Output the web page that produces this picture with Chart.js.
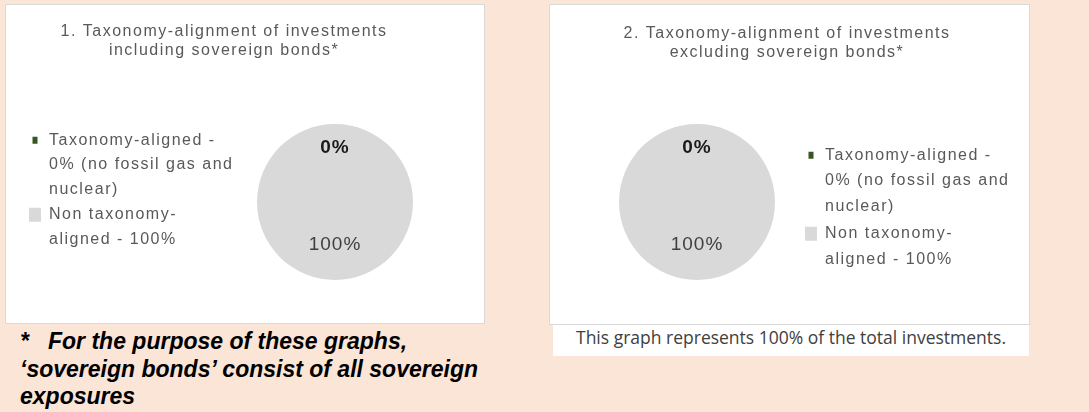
<!DOCTYPE html>
<html>
<head>
<meta charset="utf-8">
<script src="https://cdn.jsdelivr.net/npm/chart.js@4.4.1/dist/chart.umd.min.js"></script>
<style>
  body { margin: 0; width: 1089px; height: 412px; overflow: hidden; position: relative; background: #fbe5d6; font-family: "Liberation Sans", Arial, sans-serif; }
  .panel { position: absolute; background: #fff; border: 1px solid #d9d9d9; box-sizing: border-box; }
  #p1 { left: 5px; top: 4px; width: 480px; height: 320px; }
  #p2 { left: 549px; top: 4px; width: 481px; height: 321px; }
  canvas { position: absolute; }
  #c1 { left: 5px; top: 4px; }
  #c2 { left: 549px; top: 4px; }
  .note { position: absolute; left: 20px; top: 328px; font-size: 23px; line-height: 27.5px; font-weight: bold; font-style: italic; color: #000; white-space: nowrap; }
  .note .star { display: inline-block; width: 28px; }
  .caption { position: absolute; left: 553px; top: 325px; width: 476px; height: 31px; background: #fff; color: #404040; font-family: "Open Sans", sans-serif; font-size: 17.5px; line-height: 25px; text-align: center; }
</style>
</head>
<body>
<div class="panel" id="p1"></div>
<div class="panel" id="p2"></div>
<canvas id="c1" width="480" height="320"></canvas>
<canvas id="c2" width="481" height="321"></canvas>
<div class="note"><span class="star">*</span>For the purpose of these graphs,<br>‘sovereign bonds’ consist of all sovereign<br>exposures</div>
<div class="caption">This graph represents 100% of the total investments.</div>

<script>
// categories and values
const categories = ['Taxonomy-aligned - 0% (no fossil gas and nuclear)', 'Non taxonomy-aligned - 100%'];
const legendLines = [
  ['Taxonomy-aligned -', '0% (no fossil gas and', 'nuclear)'],
  ['Non taxonomy-', 'aligned - 100%']
];
const includingSovereign = [0, 100];
const excludingSovereign = [0, 100];
const sliceColors = ['#375623', '#d9d9d9'];
const title1 = ['1. Taxonomy-alignment of investments', 'including sovereign bonds*'];
const title2 = ['2. Taxonomy-alignment of investments', 'excluding sovereign bonds*'];

const textGrey = '#595959';
const fontFamily = '"Liberation Sans", Arial, sans-serif';

// spaced out letters like the original export
const spacing = {
  id: 'spacing',
  beforeUpdate(chart) { chart.ctx.letterSpacing = '1.5px'; },
  beforeDraw(chart) { chart.ctx.letterSpacing = '1.5px'; }
};

// fixed legend width + vertical nudge, legend text may run past its box
const legendBox = {
  id: 'legendBox',
  beforeLayout(chart, args, opts) {
    const lg = chart.legend;
    if (lg && !lg.fixedFit) {
      const fit = lg.fit;
      lg.fit = function () { fit.call(this); this.width = opts.width; };
      lg.fixedFit = true;
    }
  },
  afterLayout(chart, args, opts) {
    const lg = chart.legend;
    lg.top += opts.shift;
    lg.bottom += opts.shift;
    lg.right = chart.width;
  }
};

// percent labels inside the pie
const sliceLabels = {
  id: 'sliceLabels',
  afterDatasetsDraw(chart, args, opts) {
    const ctx = chart.ctx;
    const ds = chart.data.datasets[0];
    chart.getDatasetMeta(0).data.forEach((arc, i) => {
      const p = arc.getProps(['x', 'y', 'startAngle', 'endAngle', 'outerRadius'], true);
      const mid = (p.startAngle + p.endAngle) / 2;
      const r = p.outerRadius * opts.radius[i];
      ctx.save();
      ctx.letterSpacing = '1px';
      ctx.font = opts.fonts[i];
      ctx.fillStyle = opts.colors[i];
      ctx.textAlign = 'center';
      ctx.textBaseline = 'middle';
      ctx.fillText(ds.data[i] + '%', p.x + Math.cos(mid) * r, p.y + Math.sin(mid) * r);
      ctx.restore();
    });
  }
};

function makeChart(id, values, title, legendPos, pad, legend, titleTop) {
  new Chart(document.getElementById(id), {
    type: 'pie',
    data: {
      labels: categories,
      datasets: [{
        data: values,
        backgroundColor: sliceColors,
        borderWidth: 0
      }]
    },
    options: {
      responsive: false,
      animation: false,
      devicePixelRatio: 1,
      layout: { padding: pad },
      plugins: {
        tooltip: { enabled: false },
        title: {
          display: true,
          text: title,
          color: textGrey,
          font: { family: fontFamily, size: 16, weight: 'normal', lineHeight: '19px' },
          padding: { top: titleTop, bottom: 120 - titleTop - 38 }
        },
        legend: {
          position: legendPos,
          fullSize: false,
          labels: {
            color: textGrey,
            boxWidth: 12,
            boxHeight: 14,
            padding: legend.gap,
            font: { family: fontFamily, size: 16, lineHeight: legend.lineHeight },
            generateLabels(chart) {
              const ds = chart.data.datasets[0];
              return legendLines.map((lines, i) => ({
                text: lines,
                fillStyle: ds.backgroundColor[i],
                strokeStyle: '#ffffff',
                lineWidth: i === 0 ? 7 : 0,
                fontColor: textGrey,
                hidden: false,
                index: i
              }));
            }
          }
        },
        legendBox: { width: legend.width, shift: legend.shift },
        sliceLabels: {
          radius: [0.69, 0.55],
          fonts: ['bold 19px ' + fontFamily, '19px ' + fontFamily],
          colors: ['#1a1a1a', '#404040']
        }
      }
    },
    plugins: [spacing, legendBox, sliceLabels]
  });
}

makeChart('c1', includingSovereign, title1, 'left', { left: 23, right: 65, top: 0, bottom: 44 },
  { width: 222, shift: -8, gap: 1, lineHeight: '24.5px' }, 18);
makeChart('c2', excludingSovereign, title2, 'right', { left: 42, right: 47, top: 0, bottom: 45 },
  { width: 180, shift: 10, gap: 2, lineHeight: '25.5px' }, 20);
</script>
</body>
</html>
